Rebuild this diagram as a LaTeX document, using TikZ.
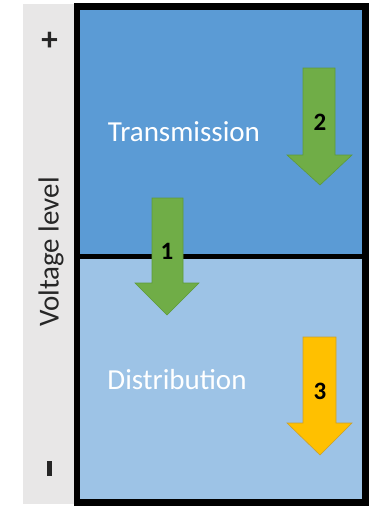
\documentclass[tikz,border=0pt]{standalone}
\usepackage{fontspec}
\setmainfont{Carlito}
\definecolor{topblue}{HTML}{5B9BD5}
\definecolor{lowblue}{HTML}{9DC3E6}
\definecolor{strip}{HTML}{E8E7E7}
\definecolor{agreen}{HTML}{70AD47}
\definecolor{agreenline}{HTML}{5E9A3A}
\definecolor{ayellow}{HTML}{FFC000}
\definecolor{ayellowline}{HTML}{C9A030}
\begin{document}
\begin{tikzpicture}[x=1pt,y=-1pt,
  region/.style={font=\fontsize{29}{30}\selectfont, text=white},
  side/.style={font=\fontsize{29}{30}\selectfont, text=black!85},
  num/.style={font=\fontsize{25}{27}\selectfont\bfseries, text=black},
  greenarrow/.style={fill=agreen, draw=agreenline, line width=0.6pt},
  yellowarrow/.style={fill=ayellow, draw=ayellowline, line width=0.6pt}]
\useasboundingbox (0,0) rectangle (370,507);
\fill[white] (0,0) rectangle (370,507);
% grey strip
\fill[strip] (23,4) rectangle (77,504);
% regions
\fill[topblue] (77,6.5) rectangle (365.5,256);
\fill[lowblue] (77,256) rectangle (365.5,502.5);
\draw[line width=5pt] (77,256) -- (365.5,256);
\draw[line width=6.5pt] (77,6.5) rectangle (365.5,502.5);
% side labels
\node[side, font=\fontsize{33}{34}\selectfont\bfseries, inner sep=0pt] (plus) at (49.5,41.5) {+};
\node[fill=black!85, inner sep=0pt, minimum width=4.5pt, minimum height=15pt] (minus) at (49.5,468.5) {};
\node[side, rotate=90] (vlevel) at (51,252) {Voltage level};
% region labels
\node[region] (trans) at (184,132) {Transmission};
\node[region] (dist) at (177,380) {Distribution};
% arrow 2
\draw[greenarrow] (303,68) -- (335,68) -- (335,155) -- (352,155) -- (320,185) -- (287,155) -- (303,155) -- cycle;
% arrow 1
\draw[greenarrow] (152,198) -- (183,198) -- (183,283) -- (199,283) -- (167,315) -- (135,283) -- (152,283) -- cycle;
% arrow 3
\draw[yellowarrow] (303,337) -- (336,337) -- (336,423) -- (352,423) -- (320,455) -- (287,423) -- (303,423) -- cycle;
\node[num] (n2) at (320,122) {2};
\node[num] (n1) at (167,251) {1};
\node[num] (n3) at (320,391) {3};
\end{tikzpicture}
\end{document}
